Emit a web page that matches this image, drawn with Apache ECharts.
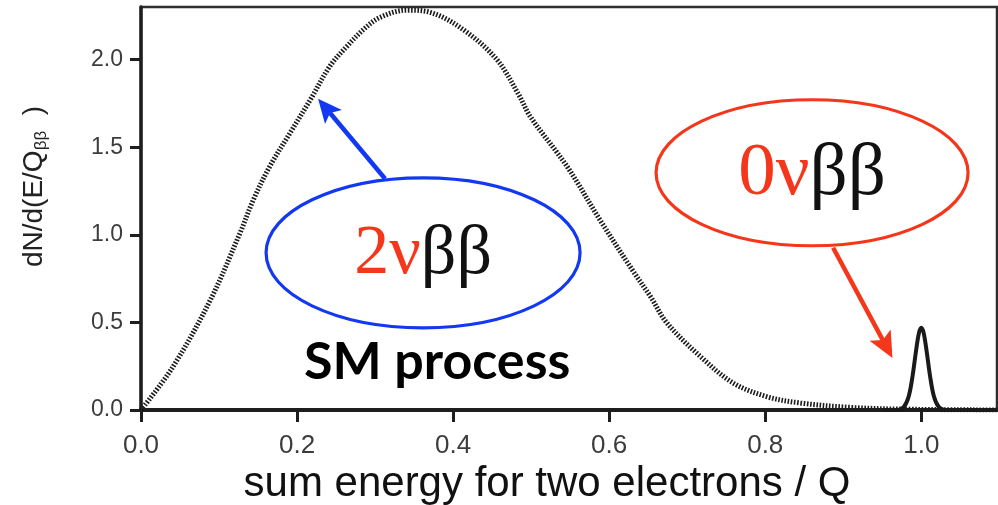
<!DOCTYPE html>
<html>
<head>
<meta charset="utf-8">
<script src="https://cdn.jsdelivr.net/npm/echarts@6/dist/echarts.min.js"></script>
<style>
  html, body { margin: 0; padding: 0; background: #fff; }
  #main { width: 998px; height: 505px; }
</style>
</head>
<body>
<div id="main"></div>
<script>
// Two-neutrino double beta decay: continuous sum-energy spectrum
const energy2nu = [0, 0.041, 0.089, 0.127, 0.144, 0.165, 0.191, 0.217, 0.242, 0.264, 0.285, 0.306, 0.341,
  0.371, 0.413, 0.456, 0.484, 0.499, 0.546, 0.588, 0.631, 0.653, 0.674, 0.717, 0.759, 0.802, 0.845, 0.909, 0.973, 1.097];
const rate2nu = [0, 0.247, 0.629, 1.011, 1.2, 1.39, 1.581, 1.771, 1.962, 2.076, 2.171, 2.24, 2.282,
  2.269, 2.171, 2.0, 1.8, 1.674, 1.39, 1.086, 0.79, 0.647, 0.497, 0.305, 0.154, 0.076, 0.04, 0.015, 0.005, 0];

// Neutrinoless double beta decay: sharp line at Q
const energy0nu = [0.95, 0.97, 0.978, 0.984, 0.989, 0.993, 0.997, 1.0, 1.003, 1.007, 1.011, 1.016, 1.022, 1.03, 1.097];
const rate0nu = [0, 0, 0.02, 0.08, 0.2, 0.33, 0.44, 0.47, 0.44, 0.33, 0.2, 0.08, 0.02, 0, 0];

const xTicks = [0, 0.2, 0.4, 0.6, 0.8, 1.0];
const yTicks = [0, 0.5, 1.0, 1.5, 2.0];

const xTitle = 'sum energy for two electrons / Q';
const yTitle = 'dN/d(E/Q{sub|ββ}  )';

const RED = '#f4361a';
const BLUE = '#1238f2';
const SANS = '"Liberation Sans", Arial, sans-serif';
const SERIF = '"Liberation Serif", "Times New Roman", serif';

const chart = echarts.init(document.getElementById('main'), null, { renderer: 'canvas' });

const zip = (xs, ys) => xs.map((x, i) => [x, ys[i]]);

chart.setOption({
  animation: false,
  backgroundColor: '#fff',
  grid: {
    left: 141, right: 1, top: 7, bottom: 95,
    outerBoundsMode: 'none', containLabel: false,
    show: true, borderColor: '#2e2e2e', borderWidth: 2.5, backgroundColor: 'transparent'
  },
  xAxis: {
    type: 'value', min: 0, max: 1.097,
    name: xTitle, nameLocation: 'middle', nameGap: 51,
    nameTextStyle: { fontFamily: SANS, fontSize: 42, color: '#111', padding: [0, 44, 0, 0] },
    axisLine: { show: true, onZero: false, lineStyle: { color: '#1e1e1e', width: 4 } },
    axisTick: { show: true, customValues: xTicks, length: 12, lineStyle: { color: '#1e1e1e', width: 3 } },
    axisLabel: {
      customValues: xTicks, margin: 23, fontFamily: SANS, fontSize: 26, color: '#3c3c3c',
      formatter: v => v.toFixed(1)
    },
    splitLine: { show: false }
  },
  yAxis: {
    type: 'value', min: 0, max: 2.3,
    name: yTitle, nameLocation: 'middle', nameGap: 91, nameRotate: 90,
    nameTextStyle: {
      fontFamily: SANS, fontSize: 28, color: '#222', padding: [0, 0, 0, 44],
      rich: { sub: { fontSize: 17, padding: [14, 0, 0, 0], fontFamily: SANS, color: '#222' } }
    },
    axisLine: { show: true, onZero: false, lineStyle: { color: '#1e1e1e', width: 3.5 } },
    axisTick: { show: true, customValues: yTicks, length: 11, lineStyle: { color: '#1e1e1e', width: 3 } },
    axisLabel: {
      customValues: yTicks, margin: 18, fontFamily: SANS, fontSize: 23, color: '#3c3c3c',
      formatter: v => v.toFixed(1)
    },
    splitLine: { show: false }
  },
  series: [
    {
      name: '2νββ', type: 'line', data: zip(energy2nu, rate2nu),
      smooth: 0.35, showSymbol: false, z: 3,
      lineStyle: { color: '#1c1c1c', width: 5, type: [1.6, 1.6] }
    },
    {
      name: '0νββ', type: 'line', data: zip(energy0nu, rate0nu),
      smooth: 0.35, showSymbol: false, z: 4,
      lineStyle: { color: '#1a1a1a', width: 4 }
    }
  ]
});

// Annotation anchors in data units, converted to pixels
const px = p => chart.convertToPixel({ gridIndex: 0 }, p);

function arrow(from, to, color, lw, headLen, headW) {
  const dx = to[0] - from[0], dy = to[1] - from[1];
  const L = Math.hypot(dx, dy), ux = dx / L, uy = dy / L, nx = -uy, ny = ux;
  const bx = to[0] - ux * headLen, by = to[1] - uy * headLen;
  const mx = to[0] - ux * headLen * 0.78, my = to[1] - uy * headLen * 0.78;
  return [
    { type: 'line', shape: { x1: from[0], y1: from[1], x2: mx, y2: my },
      style: { stroke: color, lineWidth: lw }, z: 10 },
    { type: 'polygon', shape: { points: [to, [bx + nx * headW / 2, by + ny * headW / 2], [mx, my], [bx - nx * headW / 2, by - ny * headW / 2]] },
      style: { fill: color }, z: 10 }
  ];
}

const blueCenter = px([0.3615, 0.897]);
const redCenter = px([0.860, 1.354]);
const smCenter = px([0.3795, 0.274]);

chart.setOption({
  graphic: [
    { type: 'ellipse', shape: { cx: blueCenter[0], cy: blueCenter[1], rx: 157, ry: 75 },
      style: { fill: 'transparent', stroke: BLUE, lineWidth: 3.2 }, z: 10 },
    { type: 'ellipse', shape: { cx: redCenter[0], cy: redCenter[1], rx: 156, ry: 73 },
      style: { fill: 'transparent', stroke: RED, lineWidth: 3.2 }, z: 10 },
    { type: 'text', z: 11, style: {
        x: blueCenter[0], y: blueCenter[1] + 2, align: 'center', verticalAlign: 'middle',
        text: '{r|2ν}{k|ββ}',
        rich: {
          r: { fontFamily: SERIF, fontSize: 70, fill: RED },
          k: { fontFamily: SERIF, fontSize: 70, fill: '#111' }
        } } },
    { type: 'text', z: 11, style: {
        x: redCenter[0], y: redCenter[1] + 2, align: 'center', verticalAlign: 'middle',
        text: '{r|0ν}{k|ββ}',
        rich: {
          r: { fontFamily: SERIF, fontSize: 75, fill: RED },
          k: { fontFamily: SERIF, fontSize: 75, fill: '#111' }
        } } },
    { type: 'text', z: 11, style: {
        x: smCenter[0], y: smCenter[1], align: 'center', verticalAlign: 'middle',
        text: 'SM process', fontFamily: 'Lato, "Noto Sans", sans-serif', fontWeight: 'bold', fontSize: 52, fill: '#000' } },
    ...arrow(px([0.3128, 1.32]), px([0.2269, 1.777]), BLUE, 4.5, 24, 22),
    ...arrow(px([0.887, 0.926]), px([0.963, 0.297]), RED, 4.5, 26, 24)
  ]
});
</script>
</body>
</html>
